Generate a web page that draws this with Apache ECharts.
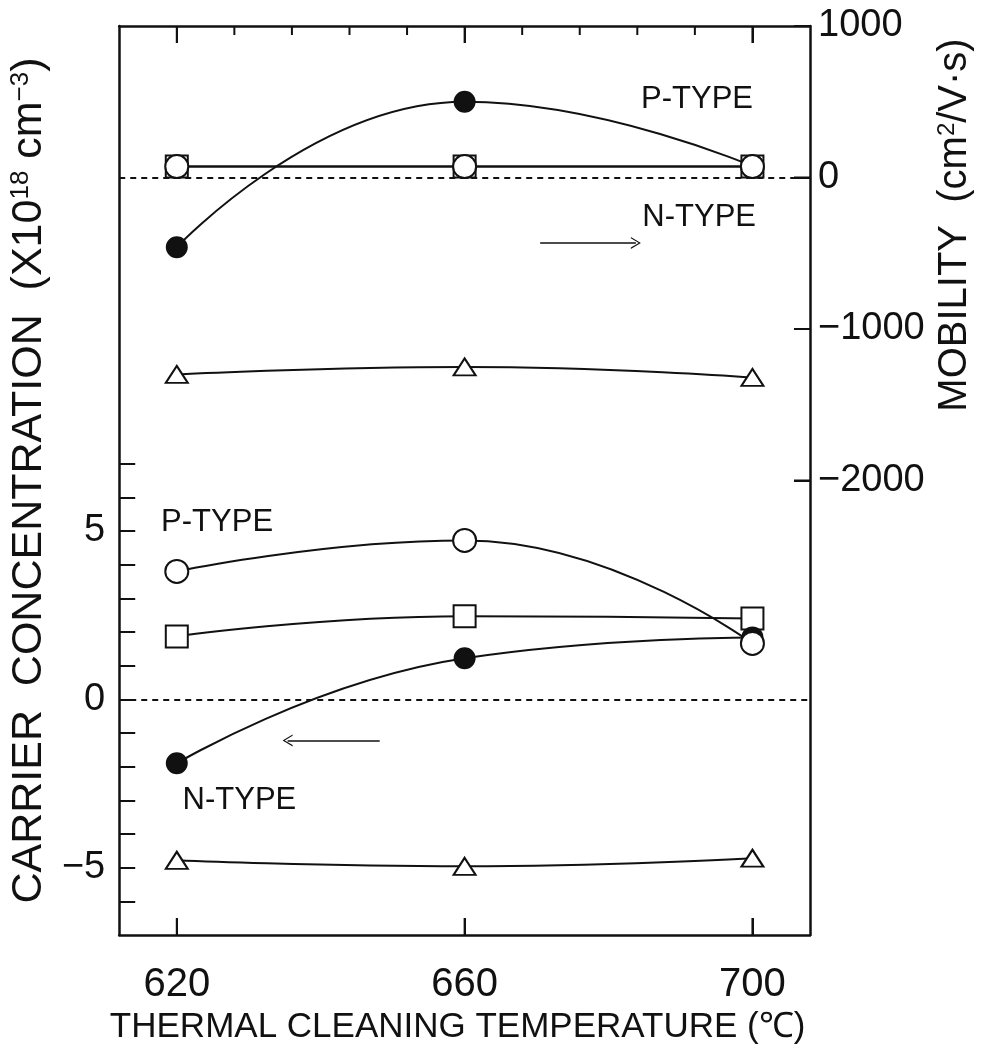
<!DOCTYPE html>
<html><head><meta charset="utf-8">
<script src="https://cdn.jsdelivr.net/npm/echarts@6/dist/echarts.min.js"></script>
<style>html,body{margin:0;padding:0;background:#fff}#c{width:984px;height:1055px}</style>
</head><body><div id="c"></div>
<script>
// ---- data ----
const temperatures = [620, 660, 700];
const xMajorTicks = [620, 660, 700];
const xTopMinorTicks = [628, 636, 644, 652, 668, 676, 684, 692];
const carrierTicks = [-6, -5, -4, -3, -2, -1, 0, 1, 2, 3, 4, 5, 6, 7];
const carrierTickLabels = [-5, 0, 5];
const mobilityTicks = [-2000, -1000, 0, 1000];

// carrier concentration (x10^18 cm^-3), left axis
const carrierOpenCircle = [3.8, 4.72, 1.66];
const carrierSquare = [1.87, 2.47, 2.4];
const carrierFilledCircle = [-1.9, 1.22, 1.84];
const carrierTriangle = [-4.78, -4.96, -4.72];

// mobility (cm^2/V s), right axis
const mobilityOpenCircle = [72, 72, 72];
const mobilitySquare = [72, 72, 72];
const mobilityFilledCircle = [-460, 500, 75];
const mobilityTriangle = [-1300, -1250, -1320];

// annotations (data space)
const upperLabels = [{ name: 'P-TYPE', x: 692.3, y: 512 }, { name: 'N-TYPE', x: 692.6, y: -261 }];
const lowerLabels = [{ name: 'P-TYPE', x: 625.6, y: 5.26 }, { name: 'N-TYPE', x: 628.7, y: -3.0 }];
const upperArrow = { x1: 670.5, x2: 683.8, y: -432 };
const lowerArrow = { x1: 648.2, x2: 635.4, y: -1.22 };

// ---- chart ----
const FONT = "'Liberation Sans',Arial,sans-serif";
const INK = '#111';
const CARRIER_RANGE = [-7, 20];
const MOBILITY_RANGE = [-5000, 1000];
const X_RANGE = [612, 708];
const TICK_LONG = 17, TICK_SHORT = 9, TICK_Y = 16;

const pairs = (ys) => temperatures.map((t, i) => [t, ys[i]]);
const minus = (v) => String(v).replace('-', '\u2212');
const CHEVRON = 'path://M0,12 L6,0 L12,12 L10.6,12 L6,2.6 L1.4,12 Z';

const axisLineStyle = { onZero: false, lineStyle: { color: INK, width: 2.5 } };
const tickLine = { color: INK, width: 2 };

function lineSeries(name, data, yIdx, symbol, size, filled, z, extra) {
  return Object.assign({
    name, type: 'line', yAxisIndex: yIdx, xAxisIndex: 0, data: pairs(data),
    smooth: 0.5, symbol, symbolSize: size, showSymbol: true, z,
    lineStyle: { color: INK, width: 2 },
    itemStyle: { color: filled ? INK : '#fff', borderColor: INK, borderWidth: 2 },
    emphasis: { disabled: true }, animation: false
  }, extra || {});
}

const zeroLine = () => ({
  silent: true, symbol: 'none', animation: false,
  lineStyle: { color: INK, width: 2, type: [6, 5] },
  label: { show: false },
  data: [{ yAxis: 0 }]
});

const textMarks = (arr) => ({
  silent: true, symbol: 'circle', symbolSize: 0, animation: false,
  label: { show: true, position: 'inside', formatter: '{b}', color: INK, fontSize: 31, fontFamily: FONT },
  data: arr.map(a => ({ name: a.name, coord: [a.x, a.y] }))
});

const arrowLine = (a) => ({
  silent: true, animation: false, symbol: 'none',
  lineStyle: { color: INK, width: 1.5, type: 'solid' },
  label: { show: false },
  data: [[
    { coord: [a.x1, a.y], symbol: 'none' },
    { coord: [a.x2, a.y], symbol: CHEVRON, symbolSize: [12, 10] }
  ]]
});

const option = {
  animation: false,
  backgroundColor: '#fff',
  textStyle: { fontFamily: FONT, color: INK },
  grid: { left: 117, right: 174, top: 26, bottom: 120, containLabel: false },
  xAxis: [
    {
      type: 'value', position: 'bottom', min: X_RANGE[0], max: X_RANGE[1],
      axisLine: axisLineStyle, splitLine: { show: false },
      axisTick: { show: true, inside: true, length: TICK_LONG, customValues: xMajorTicks, lineStyle: tickLine },
      axisLabel: { customValues: xMajorTicks, color: INK, fontSize: 40, fontFamily: FONT, margin: 30 },
      name: 'THERMAL CLEANING TEMPERATURE (\u2103)', nameLocation: 'middle', nameGap: 75,
      nameTextStyle: { fontSize: 35, color: INK, fontFamily: FONT, padding: [0, 14, 0, 0] }
    },
    {
      type: 'value', position: 'top', min: X_RANGE[0], max: X_RANGE[1],
      axisLine: axisLineStyle, splitLine: { show: false },
      axisTick: { show: true, inside: true, length: TICK_LONG, customValues: xMajorTicks, lineStyle: tickLine },
      axisLabel: { show: false }
    }
  ],
  yAxis: [
    {
      type: 'value', position: 'left', min: CARRIER_RANGE[0], max: CARRIER_RANGE[1],
      axisLine: axisLineStyle, splitLine: { show: false },
      axisTick: { inside: true, length: TICK_Y, customValues: carrierTicks, lineStyle: tickLine },
      axisLabel: { customValues: carrierTickLabels, formatter: minus, color: INK, fontSize: 38, fontFamily: FONT, margin: 14 },
      name: 'CARRIER  CONCENTRATION  (X10{sup|18} cm{sup|\u22123})', nameLocation: 'middle', nameGap: 55,
      nameTextStyle: { fontSize: 43, color: INK, fontFamily: FONT, rich: { sup: { fontSize: 26, verticalAlign: 'top', fontFamily: FONT, color: INK } } }
    },
    {
      type: 'value', position: 'right', min: MOBILITY_RANGE[0], max: MOBILITY_RANGE[1],
      axisLine: axisLineStyle, splitLine: { show: false },
      axisTick: { inside: true, length: TICK_Y, customValues: mobilityTicks, lineStyle: tickLine },
      axisLabel: { customValues: mobilityTicks, formatter: minus, color: INK, fontSize: 38, fontFamily: FONT, margin: 8 }
    }
  ],
  graphic: [
    {
      id: 'mobTitle', type: 'text', x: 955, y: 225, rotation: Math.PI / 2, silent: true,
      style: {
        text: 'MOBILITY  (cm{sup|2}/V\u00b7s)', align: 'center', verticalAlign: 'middle',
        fontSize: 40, fontFamily: FONT, fill: INK,
        rich: { sup: { fontSize: 24, verticalAlign: 'top', fontFamily: FONT, fill: INK } }
      }
    }
  ],
  series: [
    // mobility (right axis)
    lineSeries('mob-square', mobilitySquare, 1, 'rect', 22, false, 2, { markLine: zeroLine() }),
    lineSeries('mob-filled', mobilityFilledCircle, 1, 'circle', 20, true, 3, { markPoint: textMarks(upperLabels) }),
    lineSeries('mob-triangle', mobilityTriangle, 1, 'triangle', [22, 17], false, 3, { markLine: arrowLine(upperArrow) }),
    lineSeries('mob-open', mobilityOpenCircle, 1, 'circle', 23, false, 4),
    // carrier concentration (left axis)
    lineSeries('car-square', carrierSquare, 0, 'rect', 22, false, 2, { markLine: zeroLine() }),
    lineSeries('car-filled', carrierFilledCircle, 0, 'circle', 20, true, 3, { markPoint: textMarks(lowerLabels) }),
    lineSeries('car-triangle', carrierTriangle, 0, 'triangle', [22, 17], false, 3, { markLine: arrowLine(lowerArrow) }),
    lineSeries('car-open', carrierOpenCircle, 0, 'circle', 23, false, 4)
  ]
};

const chart = echarts.init(document.getElementById('c'), null, { renderer: 'canvas' });
chart.setOption(option);

// frame ticks on top/bottom/right edges, positioned through the axes' own scales
try {
  const px = (v) => chart.convertToPixel({ xAxisIndex: 0 }, v);
  const pyL = (v) => chart.convertToPixel({ yAxisIndex: 0 }, v);
  const pyR = (v) => chart.convertToPixel({ yAxisIndex: 1 }, v);
  const bottomY = pyL(CARRIER_RANGE[0]);
  const topY = pyR(MOBILITY_RANGE[1]);
  const rightX = px(X_RANGE[1]);
  const seg = (id, x1, y1, x2, y2) => ({
    id, type: 'line', silent: true, z: 100,
    shape: { x1, y1, x2, y2 }, style: { stroke: INK, lineWidth: 2 }
  });
  const ticks = [];
  xMajorTicks.forEach((v, i) => {
    const x = px(v);
    ticks.push(seg('tb' + i, x, bottomY, x, bottomY - TICK_LONG));
    ticks.push(seg('tt' + i, x, topY, x, topY + TICK_LONG));
  });
  xTopMinorTicks.forEach((v, i) => {
    const x = px(v);
    ticks.push(seg('tm' + i, x, topY, x, topY + TICK_SHORT));
  });
  mobilityTicks.forEach((v, i) => {
    const y = pyR(v);
    ticks.push(seg('tr' + i, rightX, y, rightX - TICK_Y, y));
  });
  chart.setOption({ graphic: ticks });
} catch (e) { /* keep the axis-drawn ticks */ }
</script>
</body></html>
